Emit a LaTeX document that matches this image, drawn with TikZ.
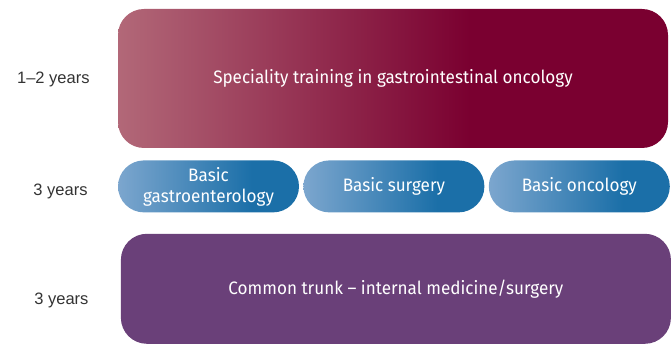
\documentclass[tikz,border=0pt]{standalone}
\usepackage{fontspec}
\setmainfont{Liberation Sans}
\newfontfamily\stagefont{Fira Sans}[FakeStretch=0.95]
\usetikzlibrary{positioning}
\definecolor{rosepale}{RGB}{178,104,120}
\definecolor{wine}{RGB}{122,0,48}
\definecolor{skypale}{RGB}{124,166,206}
\definecolor{steel}{RGB}{27,111,168}
\definecolor{plum}{RGB}{106,64,121}
\definecolor{labelgrey}{RGB}{51,51,51}
\pgfdeclarehorizontalshading{winefade}{100bp}{color(0bp)=(rosepale); color(25bp)=(rosepale);
  color(57bp)=(wine); color(100bp)=(wine)}
\pgfdeclarehorizontalshading{steelfade}{100bp}{color(0bp)=(skypale); color(25bp)=(skypale);
  color(62bp)=(steel); color(100bp)=(steel)}
\tikzstyle{stage}=[rectangle,rounded corners=26pt,text=white,align=center,inner sep=0pt,
  font=\stagefont\fontsize{18}{21}\selectfont]
\tikzstyle{basic}=[stage,minimum width=181pt,minimum height=52pt,shading=steelfade]
\tikzstyle{years}=[text=labelgrey,inner sep=0pt,font=\fontsize{16.5}{19}\selectfont]

\begin{document}
\begin{tikzpicture}[x=1pt, y=-1pt, node distance=12pt]
  \useasboundingbox (0,0) rectangle (671,344);
  \node[stage, shading=winefade, minimum width=550pt, minimum height=139pt]
    (special) at (393,78.5) {Speciality training in gastrointestinal oncology};
  \node[basic, below right=12pt and 0pt of special.south west, anchor=north west]
    (gastro) {Basic\\gastroenterology};
  \node[basic, right=4pt of gastro] (surgery) {Basic surgery};
  \node[basic, right=4pt of surgery] (oncology) {Basic oncology};
  \node[stage, fill=plum, minimum width=550pt, minimum height=110pt,
    below=21pt of surgery, xshift=2pt] (trunk) {Common trunk – internal medicine/surgery};

  \node[years, left=28pt of special, yshift=-1pt] (y-special) {1–2 years};
  \node[years, left=30pt of gastro, yshift=-5pt] (y-basic) {3 years};
  \node[years, left=32pt of trunk, yshift=-12pt] (y-trunk) {3 years};
\end{tikzpicture}
\end{document}
